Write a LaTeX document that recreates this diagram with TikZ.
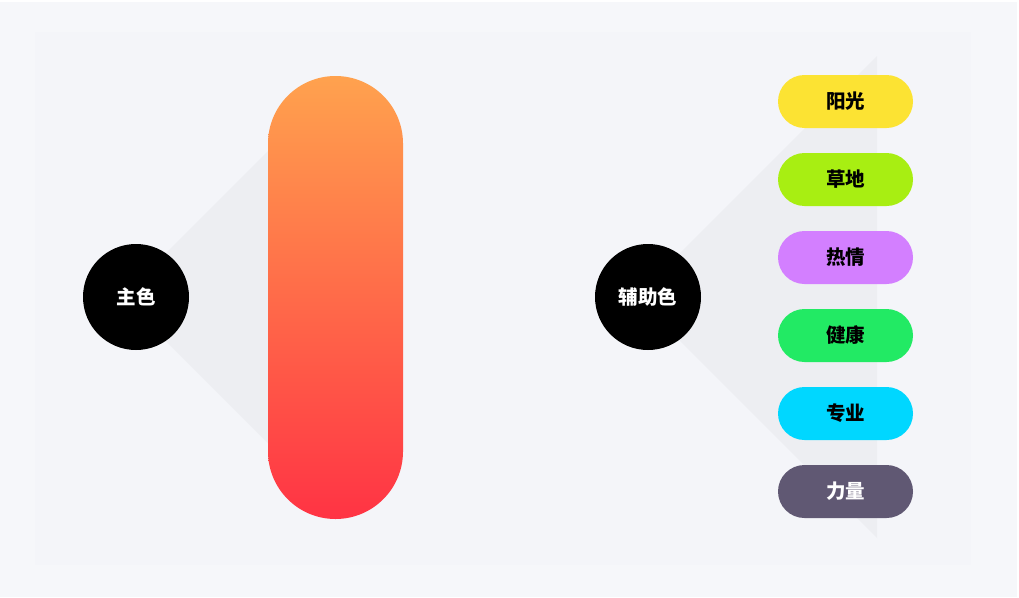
\documentclass[tikz,border=0pt]{standalone}
\usepackage{fontspec}
\newfontfamily\cjk{Noto Sans CJK SC}
\usetikzlibrary{positioning, calc, backgrounds}

\definecolor{pagebg}{HTML}{F6F7FA}
\definecolor{panelbg}{HTML}{F4F5F9}
\definecolor{longshadow}{HTML}{EDEEF2}
\definecolor{barTop}{HTML}{FFA24E}
\definecolor{barBot}{HTML}{FF3344}
\definecolor{sun}{HTML}{FCE333}
\definecolor{grass}{HTML}{A8EE12}
\definecolor{passion}{HTML}{D37FFF}
\definecolor{health}{HTML}{22EA64}
\definecolor{pro}{HTML}{00D7FF}
\definecolor{power}{HTML}{605873}

\tikzset{
  hub/.style={circle, fill=black, minimum size=106pt, inner sep=0pt,
    text=white, font=\cjk\bfseries\fontsize{19.5}{22}\selectfont},
  tag/.style={rectangle, rounded corners=26.5pt, minimum width=135pt,
    minimum height=53pt, inner sep=0pt, font=\cjk\bfseries\fontsize{19.5}{22}\selectfont},
  bar/.style={rectangle, rounded corners=67.5pt, minimum width=135pt,
    minimum height=443pt, inner sep=0pt, top color=barTop, bottom color=barBot}
}

\begin{document}
\begin{tikzpicture}[x=1pt, y=-1pt, node distance=78pt, on grid]
    \useasboundingbox (0,0) rectangle (1019,597);

    \node[hub] (main) at (136,297) {主色};
    \node[bar] (bar) at (335.5,297.5) {};
    \node[hub] (aux) at (648,297) {辅助色};

    \node[tag, fill=sun] (sun) at (845.5,101.5) {阳光};
    \node[tag, fill=grass] (grass) [below=of sun] {草地};
    \node[tag, fill=passion] (passion) [below=of grass] {热情};
    \node[tag, fill=health] (health) [below=of passion] {健康};
    \node[tag, fill=pro] (pro) [below=of health] {专业};
    \node[tag, fill=power, text=white] (power) [below=of pro] {力量};

    % page, panel and the long shadows behind the circles
    \begin{scope}[on background layer]
      \fill[white] (0,0) rectangle (1019,597);
      \fill[pagebg] (0,2) rectangle (1017,597);
      \fill[panelbg] (35,32) rectangle (971,565);
      \fill[longshadow] ($(main.center)+(-14,0)$) -- ++(146,-146) -- ++(0,292) -- cycle;
      \fill[longshadow] ($(aux.center)+(-12,0)$) -- ++(241,-241) -- ++(0,482) -- cycle;
    \end{scope}
\end{tikzpicture}
\end{document}
